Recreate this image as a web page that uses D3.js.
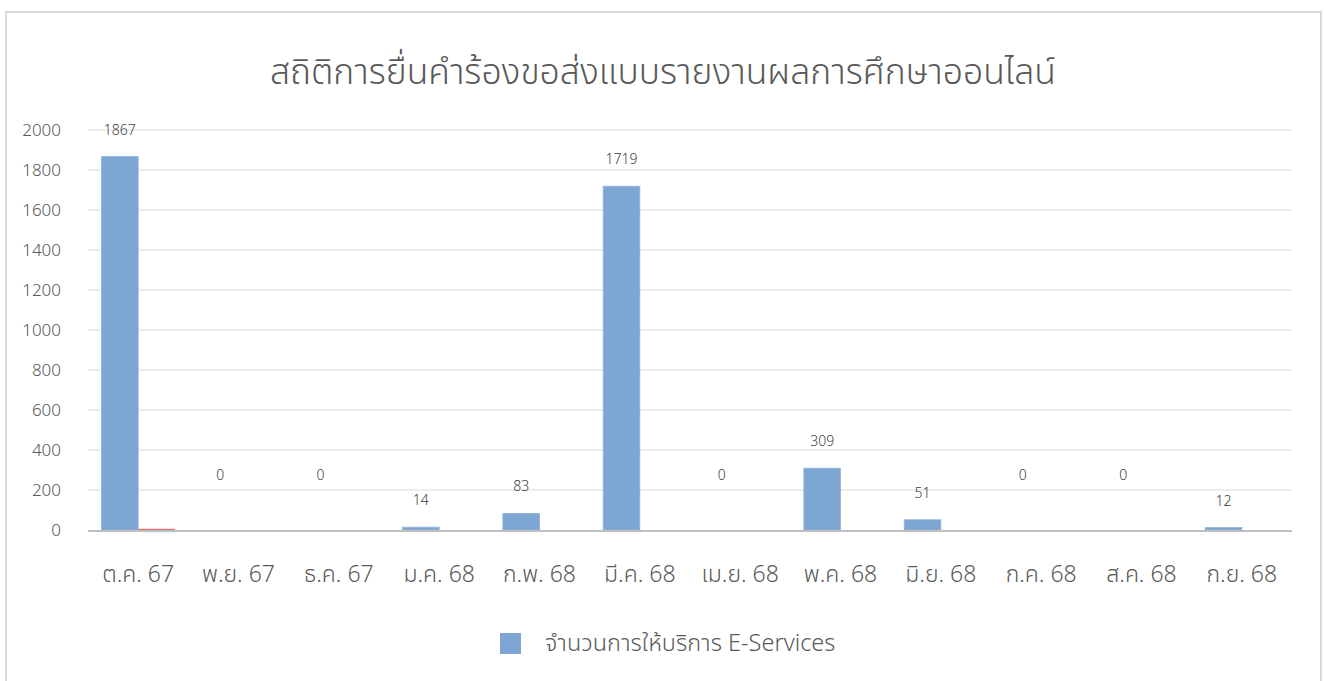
<!DOCTYPE html>
<html>
<head>
<meta charset="utf-8">
<script src="https://cdn.jsdelivr.net/npm/d3@7"></script>
<style>
  body { margin: 0; background: #fff; }
  text { font-family: "Noto Sans Thai", "Leelawadee UI", "Noto Sans", sans-serif; }
</style>
</head>
<body>
<script>
var width = 1324;
var height = 681;

// data
var months = ["ต.ค. 67", "พ.ย. 67", "ธ.ค. 67", "ม.ค. 68", "ก.พ. 68", "มี.ค. 68",
              "เม.ย. 68", "พ.ค. 68", "มิ.ย. 68", "ก.ค. 68", "ส.ค. 68", "ก.ย. 68"];
var eServices = [1867, 0, 0, 14, 83, 1719, 0, 309, 51, 0, 0, 12];
var otherSeries = [6, 0, 0, 0, 0, 0, 0, 0, 0, 0, 0, 0];
var yTicks = [0, 200, 400, 600, 800, 1000, 1200, 1400, 1600, 1800, 2000];
var title = "สถิติการยื่นคำร้องขอส่งแบบรายงานผลการศึกษาออนไลน์";
var legendLabel = "จำนวนการให้บริการ E-Services";

var svg = d3.select("body")
            .append("svg")
            .attr("width", width)
            .attr("height", height);

// chart frame
svg.append("rect")
   .attr("x", 6)
   .attr("y", 12)
   .attr("width", 1315)
   .attr("height", 680)
   .attr("fill", "#fff")
   .attr("stroke", "#D9D9D9")
   .attr("stroke-width", 2);

svg.append("text")
   .attr("x", 663)
   .attr("y", 84)
   .attr("text-anchor", "middle")
   .attr("font-size", "35.5px")
   .attr("font-weight", 300)
   .attr("fill", "#595959")
   .text(title);

var y = d3.scaleLinear().domain([0, 2000]).range([530, 130]);

var x0 = d3.scaleBand()
           .domain(months)
           .range([88, 1292])
           .paddingInner(0.27)
           .paddingOuter(0.135);

var x1 = d3.scaleBand()
           .domain(["a", "b"])
           .range([0, x0.bandwidth()]);

// gridlines
svg.append("g")
   .selectAll("line")
   .data(yTicks.slice(1))
   .join("line")
   .attr("x1", 88)
   .attr("x2", 1292)
   .attr("y1", d => y(d))
   .attr("y2", d => y(d))
   .attr("stroke", "#EDEDED")
   .attr("stroke-width", 2);

// y tick labels
svg.append("g")
   .selectAll("text")
   .data(yTicks)
   .join("text")
   .attr("x", 61)
   .attr("y", d => y(d))
   .attr("dy", "0.35em")
   .attr("text-anchor", "end")
   .attr("font-size", "17px")
   .attr("font-weight", 300)
   .attr("fill", "#595959")
   .text(d => d);

var groups = svg.append("g")
   .selectAll("g")
   .data(months)
   .join("g")
   .attr("transform", d => "translate(" + x0(d) + ",0)");

groups.append("rect")
   .attr("x", x1("a"))
   .attr("y", (d, i) => y(eServices[i]))
   .attr("width", x1.bandwidth())
   .attr("height", (d, i) => y(0) - y(eServices[i]))
   .attr("fill", "#7EA6D3")
   .attr("stroke", "#8FB2DA")
   .attr("stroke-width", 0.8);

groups.append("rect")
   .attr("x", x1("b"))
   .attr("y", (d, i) => y(otherSeries[i]))
   .attr("width", x1.bandwidth())
   .attr("height", (d, i) => y(0) - y(otherSeries[i]))
   .attr("fill", "#E06C6C");

// data labels
groups.append("text")
   .attr("x", x1("a") + x1.bandwidth() / 2)
   .attr("y", (d, i) => eServices[i] === 0 ? y(0) - 50 : y(eServices[i]) - 22)
   .attr("text-anchor", "middle")
   .attr("font-size", "14px")
   .attr("font-weight", 300)
   .attr("fill", "#404040")
   .text((d, i) => eServices[i]);

// axis line
svg.append("line")
   .attr("x1", 88)
   .attr("x2", 1292)
   .attr("y1", y(0) + 1)
   .attr("y2", y(0) + 1)
   .attr("stroke", "#BFBFBF")
   .attr("stroke-width", 2);

// category labels
svg.append("g")
   .selectAll("text")
   .data(months)
   .join("text")
   .attr("x", d => x0(d) + x0.bandwidth() / 2)
   .attr("y", 582)
   .attr("text-anchor", "middle")
   .attr("font-size", "23px")
   .attr("font-weight", 300)
   .attr("fill", "#595959")
   .text(d => d);

// legend
svg.append("rect")
   .attr("x", 500)
   .attr("y", 633)
   .attr("width", 21)
   .attr("height", 21)
   .attr("fill", "#7EA6D3");

svg.append("text")
   .attr("x", 545)
   .attr("y", 643)
   .attr("dy", "0.35em")
   .attr("font-size", "23.5px")
   .attr("font-weight", 300)
   .attr("fill", "#595959")
   .text(legendLabel);
</script>
</body>
</html>
